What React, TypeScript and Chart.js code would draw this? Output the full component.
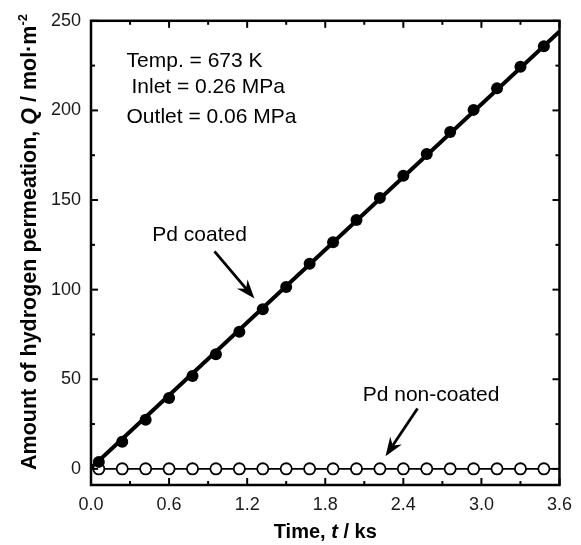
import React, { useEffect, useRef } from "react";
import { Chart, registerables } from "chart.js";

Chart.register(...registerables);

// ---- data ----
const timeKs = [0.06, 0.24, 0.42, 0.6, 0.78, 0.96, 1.14, 1.32, 1.5, 1.68, 1.86, 2.04, 2.22, 2.4, 2.58, 2.76, 2.94, 3.12, 3.3, 3.48];
const coatedQ = [3.9, 15.1, 27.4, 39.6, 51.8, 64.0, 76.5, 89.0, 101.5, 114.4, 126.4, 138.8, 151.2, 163.5, 175.7, 188.0, 200.3, 212.3, 224.4, 235.8];
const nonCoatedQ = [0, 0, 0, 0, 0, 0, 0, 0, 0, 0, 0, 0, 0, 0, 0, 0, 0, 0, 0, 0];
const fitTime = [0, 3.6];
const fitCoatedQ = [0.5, 244];
const fitNonCoatedQ = [0, 0];

const xTickValues = [0, 0.6, 1.2, 1.8, 2.4, 3.0, 3.6];
const xMinorTicks = [0.3, 0.9, 1.5, 2.1, 2.7, 3.3];
const yTickValues = [0, 50, 100, 150, 200, 250];
const yMinorTicks = [25, 75, 125, 175, 225];

const conditionLines = [
  { text: "Temp. = 673 K", t: 0.273, q: 227.4 },
  { text: "Inlet = 0.26 MPa", t: 0.311, q: 212.7 },
  { text: "Outlet = 0.06 MPa", t: 0.273, q: 196.2 },
];
const seriesLabels = [
  { text: "Pd coated", t: 0.834, q: 130.2 },
  { text: "Pd non-coated", t: 2.613, q: 41.1 },
];
const arrows = [
  { t1: 0.949, q1: 121.4, t2: 1.256, q2: 95.0 },
  { t1: 2.509, q1: 33.7, t2: 2.263, q2: 7.0 },
];

const FONT = '"Liberation Sans", Arial, Helvetica, sans-serif';

type Run = { text: string; style?: string; sup?: boolean };

function drawRuns(ctx: CanvasRenderingContext2D, runs: Run[], cx: number, cy: number, size: number) {
  const fontOf = (r: Run) => `${r.style || ""} bold ${r.sup ? Math.round(size * 0.62) : size}px ${FONT}`;
  let total = 0;
  for (const r of runs) {
    ctx.font = fontOf(r);
    total += ctx.measureText(r.text).width;
  }
  let x = cx - total / 2;
  ctx.textAlign = "left";
  ctx.textBaseline = "alphabetic";
  const base = cy + size * 0.36;
  for (const r of runs) {
    ctx.font = fontOf(r);
    ctx.fillText(r.text, x, r.sup ? base - size * 0.42 : base);
    x += ctx.measureText(r.text).width;
  }
}

const decorPlugin = {
  id: "decor",
  afterDatasetsDraw(chart: any) {
    const { ctx, chartArea: a, scales } = chart;
    const xs = scales.x;
    const ys = scales.y;
    ctx.save();
    ctx.fillStyle = "#000";
    ctx.strokeStyle = "#000";

    // annotation texts
    ctx.font = `21px ${FONT}`;
    ctx.textBaseline = "middle";
    ctx.textAlign = "left";
    for (const c of conditionLines) {
      ctx.fillText(c.text, xs.getPixelForValue(c.t), ys.getPixelForValue(c.q));
    }
    ctx.textAlign = "center";
    for (const s of seriesLabels) {
      ctx.fillText(s.text, xs.getPixelForValue(s.t), ys.getPixelForValue(s.q));
    }

    // arrows
    for (const ar of arrows) {
      const x1 = xs.getPixelForValue(ar.t1);
      const y1 = ys.getPixelForValue(ar.q1);
      const x2 = xs.getPixelForValue(ar.t2);
      const y2 = ys.getPixelForValue(ar.q2);
      const len = Math.hypot(x2 - x1, y2 - y1);
      const ux = (x2 - x1) / len;
      const uy = (y2 - y1) / len;
      const nx = -uy;
      const ny = ux;
      const L = 19;
      const W = 7;
      const notch = 6;
      ctx.lineWidth = 2.8;
      ctx.lineCap = "butt";
      ctx.beginPath();
      ctx.moveTo(x1, y1);
      ctx.lineTo(x2 - (L - notch) * ux, y2 - (L - notch) * uy);
      ctx.stroke();
      ctx.beginPath();
      ctx.moveTo(x2, y2);
      ctx.lineTo(x2 - L * ux + W * nx, y2 - L * uy + W * ny);
      ctx.lineTo(x2 - (L - notch) * ux, y2 - (L - notch) * uy);
      ctx.lineTo(x2 - L * ux - W * nx, y2 - L * uy - W * ny);
      ctx.closePath();
      ctx.fill();
    }

    // tick marks, inward on all four sides
    ctx.lineWidth = 2;
    const seg = (x0: number, y0: number, x1: number, y1: number) => {
      ctx.beginPath();
      ctx.moveTo(x0, y0);
      ctx.lineTo(x1, y1);
      ctx.stroke();
    };
    const xt = (vals: number[], l: number) => {
      for (const v of vals) {
        const p = xs.getPixelForValue(v);
        seg(p, a.bottom, p, a.bottom - l);
        seg(p, a.top, p, a.top + l);
      }
    };
    const yt = (vals: number[], l: number) => {
      for (const v of vals) {
        const p = ys.getPixelForValue(v);
        seg(a.left, p, a.left + l, p);
        seg(a.right, p, a.right - l, p);
      }
    };
    xt(xTickValues, 7);
    xt(xMinorTicks, 4);
    yt(yTickValues, 7);
    yt(yMinorTicks, 4);

    // frame
    ctx.lineWidth = 2.5;
    ctx.strokeRect(a.left, a.top, a.right - a.left, a.bottom - a.top);

    // axis titles
    ctx.fillStyle = "#000";
    drawRuns(
      ctx,
      [{ text: "Time, " }, { text: "t", style: "italic" }, { text: " / ks" }],
      (a.left + a.right) / 2,
      531,
      20
    );
    ctx.save();
    ctx.translate(28, 242);
    ctx.rotate(-Math.PI / 2);
    drawRuns(
      ctx,
      [
        { text: "Amount of hydrogen permeation, " },
        { text: "Q", style: "italic" },
        { text: " / mol\u00B7m" },
        { text: "-2", sup: true },
      ],
      0,
      0,
      21.5
    );
    ctx.restore();
    ctx.restore();
  },
};

export default function App() {
  const ref = useRef<HTMLCanvasElement | null>(null);

  useEffect(() => {
    if (!ref.current) return;
    const pts = (xsArr: number[], ysArr: number[]) => xsArr.map((x, i) => ({ x, y: ysArr[i] }));
    const chart = new Chart(ref.current, {
      type: "scatter",
      data: {
        datasets: [
          {
            label: "Pd coated",
            data: pts(timeKs, coatedQ),
            showLine: false,
            pointRadius: 6,
            pointBackgroundColor: "#000",
            pointBorderColor: "#000",
            pointBorderWidth: 0,
          },
          {
            label: "Pd non-coated",
            data: pts(timeKs, nonCoatedQ),
            showLine: false,
            pointRadius: 5.6,
            pointBackgroundColor: "#fff",
            pointBorderColor: "#000",
            pointBorderWidth: 1.8,
          },
          {
            label: "fit coated",
            data: pts(fitTime, fitCoatedQ),
            showLine: true,
            pointRadius: 0,
            borderColor: "#000",
            borderWidth: 4,
          },
          {
            label: "fit non-coated",
            data: pts(fitTime, fitNonCoatedQ),
            showLine: true,
            pointRadius: 0,
            borderColor: "#000",
            borderWidth: 1.7,
          },
        ],
      },
      options: {
        responsive: false,
        animation: false,
        layout: { padding: { top: 16, right: 21, left: 0, bottom: 0 } },
        plugins: { legend: { display: false }, tooltip: { enabled: false } },
        scales: {
          x: {
            type: "linear",
            min: 0,
            max: 3.6,
            grid: { display: false, drawTicks: false },
            border: { display: false },
            afterBuildTicks: (s: any) => {
              s.ticks = xTickValues.map((v) => ({ value: v }));
            },
            afterFit: (s: any) => {
              s.height = 60;
            },
            ticks: {
              padding: 9,
              color: "#1a1a1a",
              font: { size: 18, family: FONT },
              maxRotation: 0,
              callback: (v: any) => Number(v).toFixed(1),
            },
          },
          y: {
            type: "linear",
            min: -9,
            max: 250,
            grid: { display: false, drawTicks: false },
            border: { display: false },
            afterBuildTicks: (s: any) => {
              s.ticks = yTickValues.map((v) => ({ value: v }));
            },
            afterFit: (s: any) => {
              s.width = 91;
            },
            ticks: {
              padding: 10,
              color: "#1a1a1a",
              font: { size: 18, family: FONT },
              callback: (v: any) => String(v),
            },
          },
        },
      },
      plugins: [decorPlugin],
    });
    return () => chart.destroy();
  }, []);

  return (
    <div style={{ position: "absolute", left: 0, top: 0, width: 581, height: 545, background: "#fff" }}>
      <canvas ref={ref} width={581} height={545} style={{ display: "block" }} />
    </div>
  );
}
